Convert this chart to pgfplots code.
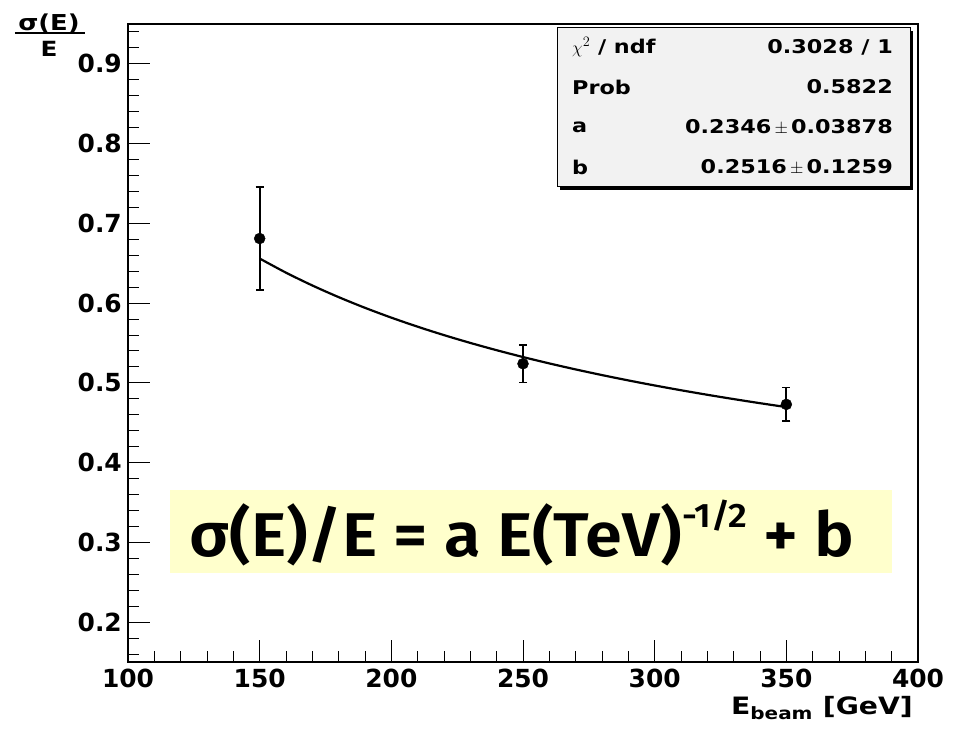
\documentclass[border=0pt]{standalone}
\usepackage{fontspec}
\setmainfont{DejaVu Sans}
\newfontfamily\rootfont{DejaVu Sans}[FakeStretch=1.18]
\newfontfamily\formfont{Fira Sans SemiBold}
\usepackage{pgfplots}
\pgfplotsset{compat=1.18}

\definecolor{boxyellow}{RGB}{255,255,204}
\definecolor{statgray}{RGB}{242,242,242}

\begin{document}
\begin{tikzpicture}[x=1bp,y=1bp]
\path[use as bounding box] (-128,-69) rectangle (835,662);
\begin{axis}[
  at={(0,0)}, anchor=south west,
  scale only axis, width=790bp, height=638bp,
  xmin=100, xmax=400, ymin=0.15, ymax=0.95,
  axis line style={line width=1.3bp},
  xtick={100,150,...,400},
  ytick={0.2,0.3,0.4,0.5,0.6,0.7,0.8,0.9},
  minor xtick={110,120,...,390},
  minor ytick={0.16,0.18,...,0.94},
  tick align=inside, xtick pos=bottom, ytick pos=left,
  major tick length=22bp, minor tick length=11bp,
  tick style={line width=1bp, black},
  /pgf/number format/assume math mode=true,
  ticklabel style={font=\fontsize{25}{25}\selectfont\bfseries, inner sep=0pt},
  xticklabel style={yshift=-7bp},
  yticklabel style={xshift=-6bp},
  yticklabel={\pgfmathprintnumber[fixed,precision=1,fixed zerofill]{\tick}},
  clip=false,
]
% yellow formula panel
\fill[boxyellow] (axis cs:116,0.2615) rectangle (axis cs:390,0.366);

% measured resolution with errors
\addplot[black, only marks, mark=*, mark size=5.5bp,
  error bars/.cd, y dir=both, y explicit,
  error bar style={line width=2bp},
  error mark options={rotate=90, mark size=4bp, line width=1.6bp}]
  coordinates {
    (150,0.681) +- (0,0.0645)
    (250,0.524) +- (0,0.0235)
    (350,0.473) +- (0,0.021)
  };

% fitted curve, a = 0.2346, b = 0.2516 (added in quadrature)
\addplot[black, line width=2.2bp, smooth] coordinates {
  (150,0.65591) (160,0.63819) (170,0.62213) (180,0.60751) (190,0.59411)
  (200,0.58180) (210,0.57042) (220,0.55988) (230,0.55009) (240,0.54095)
  (250,0.53240) (260,0.52439) (270,0.51686) (280,0.50977) (290,0.50308)
  (300,0.49675) (310,0.49076) (320,0.48507) (330,0.47967) (340,0.47453)
  (350,0.46963)
};
\end{axis}

% fit statistics box
\fill[black] (432,472) rectangle (785,631);
\filldraw[fill=statgray, draw=black, line width=1bp] (429,475) rectangle (782,634);
\begin{scope}[every node/.style={inner sep=0pt, font=\rootfont\fontsize{19}{19}\selectfont\bfseries}]
  \node[anchor=west] at (444,615) {$\chi^{2}$ / ndf};
  \node[anchor=east] at (765,615) {0.3028 / 1};
  \node[anchor=west] at (444,575) {Prob};
  \node[anchor=east] at (765,575) {0.5822};
  \node[anchor=west] at (444,535) {a};
  \node[anchor=east] at (765,535) {0.2346\,$\pm$\,0.03878};
  \node[anchor=west] at (444,495) {b};
  \node[anchor=east] at (765,495) {0.2516\,$\pm$\,0.1259};
\end{scope}

% formula text
\node[inner sep=0pt, anchor=base, font=\formfont\fontsize{62}{62}\selectfont] at (394,105)
  {\resizebox{665bp}{\height}{σ(E)/E = a E(TeV)\raisebox{0.9ex}{\fontsize{34}{34}\selectfont -1/2} + b}};

% axis titles
\node[inner sep=0pt, anchor=base, font=\rootfont\fontsize{22}{22}\selectfont\bfseries] at (-79,631) {σ(E)};
\draw[line width=2bp] (-113,629) -- (-43,629);
\node[inner sep=0pt, anchor=base, font=\rootfont\fontsize{21}{21}\selectfont\bfseries] at (-79,605) {E};
\node[inner sep=0pt, anchor=base east, font=\rootfont\fontsize{24}{24}\selectfont\bfseries] at (785,-53)
  {E\textsubscript{\fontsize{17}{17}\selectfont beam} [GeV]};
\end{tikzpicture}
\end{document}
